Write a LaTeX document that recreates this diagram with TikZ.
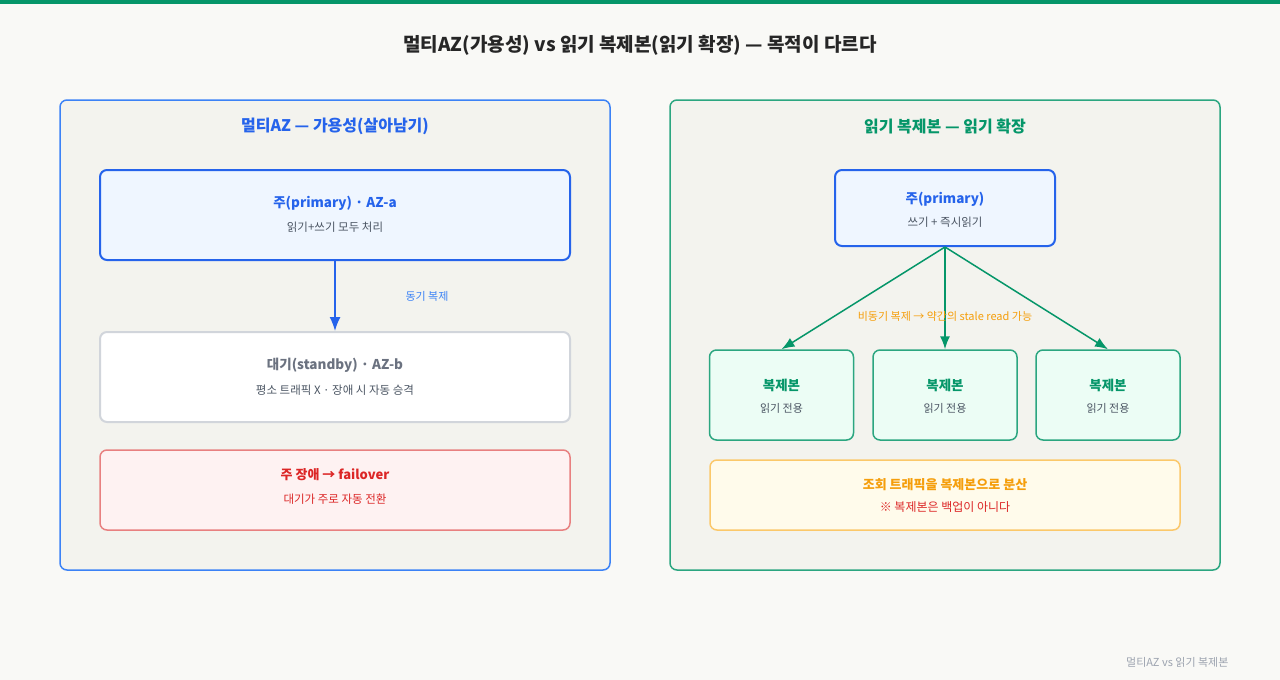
\documentclass[tikz,border=0pt]{standalone}
\usepackage{fontspec}
\setmainfont{Noto Sans CJK KR}
\usetikzlibrary{arrows.meta}
\definecolor{pagebg}{HTML}{F9F9F6}
\definecolor{panelbg}{HTML}{F3F3EE}
\definecolor{azblue}{HTML}{2563EB}
\definecolor{azbluelt}{HTML}{3B82F6}
\definecolor{bluefill}{HTML}{EFF6FF}
\definecolor{repgreen}{HTML}{059669}
\definecolor{greenfill}{HTML}{ECFDF5}
\definecolor{textgray}{HTML}{4B5563}
\definecolor{midgray}{HTML}{6B7280}
\definecolor{linegray}{HTML}{D1D5DB}
\definecolor{errred}{HTML}{DC2626}
\definecolor{errline}{HTML}{E88080}
\definecolor{redfill}{HTML}{FEF2F2}
\definecolor{warnorange}{HTML}{F59E0B}
\definecolor{warnline}{HTML}{FBC86A}
\definecolor{warnfill}{HTML}{FFFBEB}
\definecolor{footgray}{HTML}{9CA3AF}
\tikzset{
  panel/.style={line width=1.5pt, rounded corners=7pt, fill=panelbg},
  box/.style={draw, line width=2pt, rounded corners=7pt, minimum width=#1, inner sep=0pt},
  box/.default=470pt,
  boxttl/.style={font=\fontsize{13.5}{16}\selectfont\bfseries},
  boxsub/.style={font=\fontsize{11.5}{13}\selectfont, text=textgray},
  flow/.style={line width=1.5pt, -{Latex[length=14pt,width=11pt]}}
}
\begin{document}
\begin{tikzpicture}[x=1pt,y=-1pt]
  \fill[pagebg] (0,0) rectangle (1280,680);
  \useasboundingbox (0,0) rectangle (1280,680);
  \fill[repgreen] (0,0) rectangle (1280,4);
  \node[font=\fontsize{19}{21}\selectfont\bfseries, text=black!85] (title) at (640,45)
    {멀티AZ(가용성) vs 읽기 복제본(읽기 확장) — 목적이 다르다};

  % left: multi-AZ
  \draw[panel, draw=azbluelt] (60,100) rectangle (610,570);
  \node[font=\fontsize{16}{18}\selectfont\bfseries, text=azblue] (lhead) at (335,126)
    {멀티AZ — 가용성(살아남기)};
  \node[box, minimum height=90pt, draw=azblue, fill=bluefill] (prim) at (335,215) {};
  \node[boxttl, text=azblue] (primT) at (335,203) {주(primary) · AZ-a};
  \node[boxsub] (primS) at (335,227) {읽기+쓰기 모두 처리};
  \node[box, minimum height=90pt, draw=linegray, fill=white] (stby) at (335,377) {};
  \node[boxttl, text=midgray] (stbyT) at (335,365) {대기(standby) · AZ-b};
  \node[boxsub] (stbyS) at (335,390) {평소 트래픽 X · 장애 시 자동 승격};
  \draw[flow, azblue] (prim.south) -- (stby.north);
  \node[font=\fontsize{11}{12}\selectfont, text=azbluelt] (synclbl) at (427,296) {동기 복제};
  \node[box, minimum height=80pt, line width=1.5pt, draw=errline, fill=redfill] (fail) at (335,490) {};
  \node[boxttl, font=\fontsize{13}{15}\selectfont\bfseries, text=errred] (failT) at (335,475) {주 장애 → failover};
  \node[boxsub, text=errred] (failS) at (335,499) {대기가 주로 자동 전환};

  % right: read replicas
  \draw[panel, draw=repgreen!85] (670,100) rectangle (1220,570);
  \node[font=\fontsize{16}{18}\selectfont\bfseries, text=repgreen] (rhead) at (945,126)
    {읽기 복제본 — 읽기 확장};
  \node[box=220pt, minimum height=76pt, draw=azblue, fill=bluefill] (rprim) at (945,208) {};
  \node[boxttl, text=azblue] (rprimT) at (945,199) {주(primary)};
  \node[boxsub] (rprimS) at (945,222) {쓰기 + 즉시읽기};
  \foreach \i/\x in {1/781.5, 2/945, 3/1108} {
    \node[box=144pt, minimum height=90pt, line width=1.5pt, draw=repgreen!85, fill=greenfill] (rep\i) at (\x,395) {};
    \node[boxttl, text=repgreen] (rep\i T) at (\x,385) {복제본};
    \node[boxsub, font=\fontsize{11}{12}\selectfont] (rep\i S) at (\x,408) {읽기 전용};
    \draw[flow, repgreen, -{Latex[length=13pt,width=10pt]}] (rprim.south) -- (rep\i.north);
  }
  \node[font=\fontsize{11}{12}\selectfont, text=warnorange] (asynclbl) at (945,316)
    {비동기 복제 → 약간의 stale read 가능};
  \node[box, minimum height=70pt, line width=1.5pt, draw=warnline, fill=warnfill] (note) at (945,495) {};
  \node[boxttl, font=\fontsize{13}{15}\selectfont\bfseries, text=warnorange] (noteT) at (945,485)
    {조회 트래픽을 복제본으로 분산};
  \node[boxsub, font=\fontsize{12}{13}\selectfont, text=errred] (noteS) at (945,507) {※ 복제본은 백업이 아니다};

  \node[anchor=east, font=\fontsize{11}{12}\selectfont, text=footgray] (foot) at (1232,662)
    {멀티AZ vs 읽기 복제본};
\end{tikzpicture}
\end{document}
